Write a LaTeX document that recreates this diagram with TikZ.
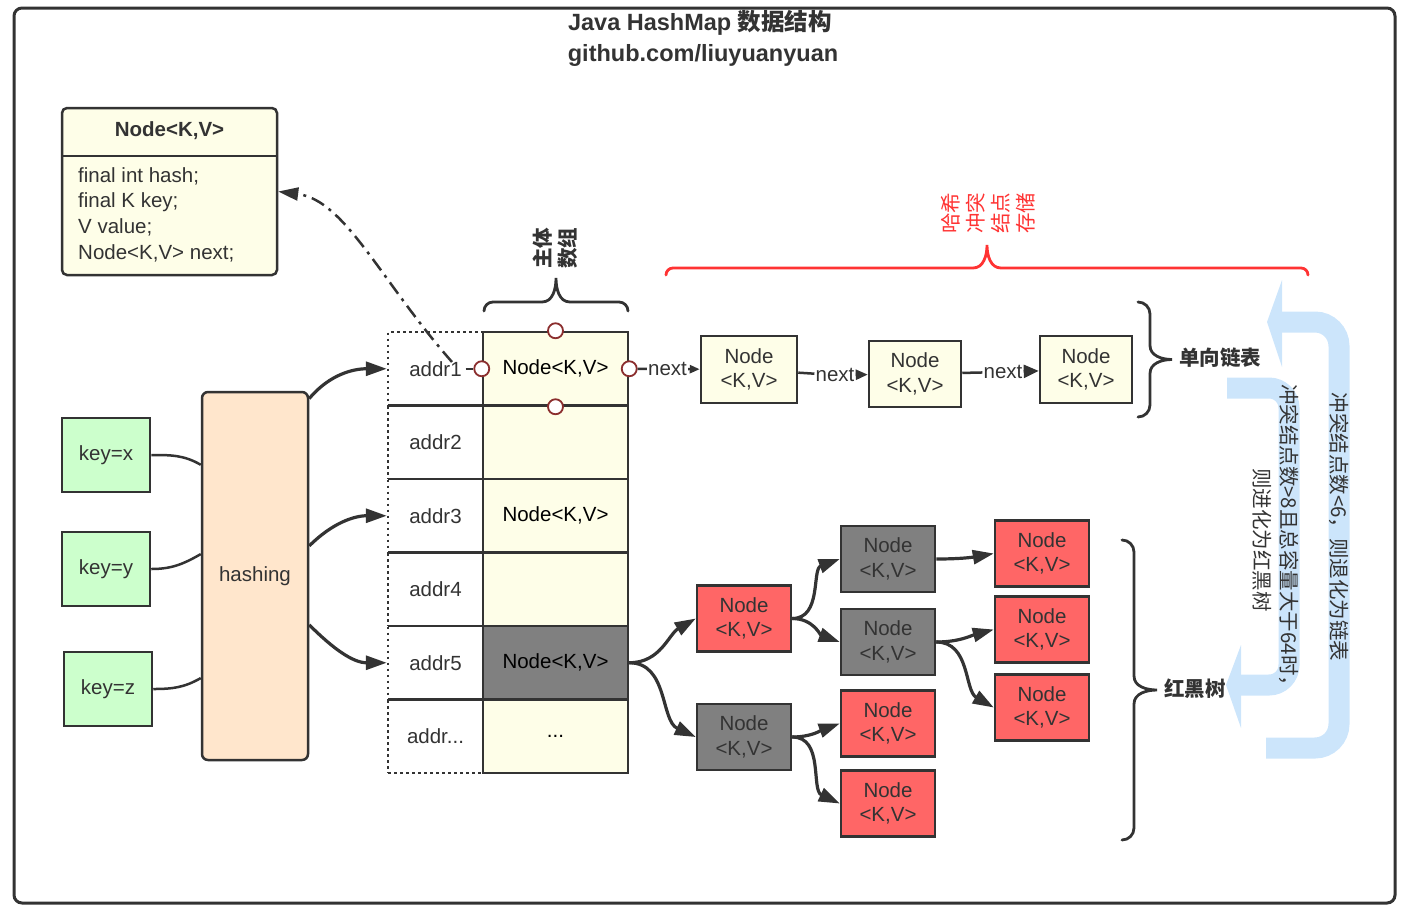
\documentclass[tikz,border=0pt]{standalone}
\usepackage{fontspec}
\setmainfont{Liberation Sans}
\newfontfamily\cjk{Noto Sans CJK SC}
\usepackage{xcolor}
\usepackage{tikz}
\usetikzlibrary{arrows.meta,calc}
\definecolor{ink}{HTML}{333333}
\definecolor{nodeyel}{HTML}{FEFEE8}
\definecolor{keygreen}{HTML}{CCFFCC}
\definecolor{hashpeach}{HTML}{FFE6CC}
\definecolor{rbred}{HTML}{FF6666}
\definecolor{rbgray}{HTML}{808080}
\definecolor{portred}{HTML}{8B2E2E}
\definecolor{clashred}{HTML}{FF3333}
\definecolor{flowblue}{HTML}{CCE5FB}
\newcommand\kv{Node<K,V>}
\newcommand\more{...}
\newcommand\txtsize{\fontsize{20.5}{24.5}\selectfont}
\newcommand\curly[6]{\draw[#1, shift={(#2)}, rotate=#3] (0,0) to[out=90,in=180] (#5,-#5) -- ({#4/2-14},-#5) to[out=0,in=-90] ({#4/2},-#6) to[out=-90,in=180] ({#4/2+14},-#5) -- ({#4-#5},-#5) to[out=0,in=90] (#4,0);}
\tikzset{
	cell/.style={draw=ink, line width=2.5pt, fill=#1, minimum width=145pt, minimum height=73.5pt, inner sep=0pt},
	addrbox/.style={draw=ink, line width=2.5pt, dash pattern=on 2.5pt off 3.5pt, minimum width=95pt, minimum height=73.5pt, inner sep=0pt},
	kvbox/.style={draw=ink, line width=2.5pt, fill=#1, minimum width=94pt, minimum height=66pt, align=center, inner sep=0pt},
	keybox/.style={draw=ink, line width=2.5pt, fill=keygreen, minimum width=88pt, minimum height=74pt},
	port/.style={circle, draw=portred, line width=1.8pt, fill=white, minimum size=15pt, inner sep=0pt},
	link/.style={draw=ink, line width=3.2pt, -{Triangle[length=21pt,width=14pt]}},
	wire/.style={draw=ink, line width=2.5pt},
	nextlink/.style={draw=ink, line width=2.5pt, -{Triangle[length=12pt,width=10pt]}},
	bracket/.style={line width=2.8pt, line cap=round},
	flow/.style={draw=flowblue, line width=21pt, rounded corners=24pt},
	vtext/.style={font=\cjk\fontsize{20.5}{27}\selectfont, align=center}
}
\begin{document}
\begin{tikzpicture}[x=1pt, y=-1pt, every node/.style={font=\txtsize, text=ink}]
	\useasboundingbox (0,0) rectangle (1418,922);
	\draw[ink, line width=3pt, rounded corners=8pt] (14,8) rectangle (1395,903);

	\node[font=\bfseries\fontsize{23.5}{28}\selectfont] (title) at (700,23) {Java HashMap {\cjk 数据结构}};
	\node[font=\bfseries\fontsize{23.5}{28}\selectfont] (repo) at (703,55) {github.com/liuyuanyuan};

	\draw[flow] (1266,748) -- (1339,748) -- (1339,322) -- (1282,322);
	\fill[flowblue] (1282,280) -- (1267,322) -- (1282,367) -- cycle;
	\draw[flow, rounded corners=20pt] (1227,388) -- (1289,388) -- (1289,685) -- (1241,685);
	\fill[flowblue] (1241,645) -- (1226,685) -- (1241,728) -- cycle;
	\node[vtext, rotate=-90] (shrink) at (1339,527) {冲突结点数<6，则退化为链表};
	\node[vtext, rotate=-90] (grow) at (1276,540) {冲突结点数>8且总容量大于64时，\\则进化为红黑树};

	\node[draw=ink, line width=2.5pt, fill=nodeyel, rounded corners=5pt, minimum width=215pt, minimum height=167pt] (cls) at (169.5,191.5) {};
	\draw[ink, line width=2.5pt] (62,156) -- (277,156);
	\node[font=\bfseries\txtsize] (clshead) at (169.5,131) {\kv};
	\node[anchor=west, align=left, inner sep=0pt, font=\fontsize{20.5}{25.7}\selectfont] (clsbody) at (78,214.5) {final int hash;\\final K key;\\V value;\\\kv{} next;};

	\node[keybox] (kx) at (106,455) {key=x};
	\node[keybox] (ky) at (106,569) {key=y};
	\node[keybox] (kz) at (108,689) {key=z};
	\node[draw=ink, line width=2.5pt, fill=hashpeach, rounded corners=6pt, minimum width=106pt, minimum height=368pt] (hash) at (255,576) {hashing};

	\foreach \i/\lbl/\txt/\clr in {1/addr1/\kv/nodeyel, 2/addr2//nodeyel, 3/addr3/\kv/nodeyel, 4/addr4//nodeyel, 5/addr5/\kv/rbgray, 6/addr\more/\more/nodeyel}{
		\node[addrbox] (a\i) at (435.5,{295.25+73.5*\i}) {\lbl};
		\node[cell=\clr, text=black] (c\i) at (555.5,{295.25+73.5*\i}) {\txt};
	}
	\foreach \a/\n in {north/pn, south/ps, west/pw, east/pe}
		\node[port] (\n) at (c1.\a) {};

	\curly{bracket, ink}{484,311}{0}{144}{9}{33}
	\node[vtext, rotate=90, font=\cjk\bfseries\fontsize{20.5}{25}\selectfont] (arraylbl) at (555,248) {主体\\数组};
	\curly{bracket, clashred}{666,275}{0}{642}{7}{30}
	\node[vtext, rotate=90, text=clashred, font=\cjk\fontsize{20.5}{25}\selectfont] (clashlbl) at (988,213) {哈希\\冲突\\结点\\存储};

	\node[kvbox=nodeyel, minimum width=96pt, minimum height=67pt] (ln1) at (749,369.5) {Node\\<K,V>};
	\node[kvbox=nodeyel, minimum width=92pt] (ln2) at (915,374) {Node\\<K,V>};
	\node[kvbox=nodeyel, minimum width=92pt, minimum height=67pt] (ln3) at (1086,369.5) {Node\\<K,V>};
	\node[inner sep=1pt] (nx1) at (667.5,369) {next};
	\node[inner sep=1pt] (nx2) at (835,375) {next};
	\node[inner sep=1pt] (nx3) at (1003,372) {next};
	\curly{bracket, ink}{1138,302}{-90}{115}{12}{34}
	\node[font=\cjk\bfseries\txtsize] (listlbl) at (1220,358) {单向链表};

	\node[kvbox=rbred] (rb1) at (744,618.5) {Node\\<K,V>};
	\node[kvbox=rbgray] (rb2) at (744,737) {Node\\<K,V>};
	\node[kvbox=rbgray] (rb3) at (888,559) {Node\\<K,V>};
	\node[kvbox=rbgray] (rb4) at (888,642) {Node\\<K,V>};
	\node[kvbox=rbred] (rb5) at (888,723.5) {Node\\<K,V>};
	\node[kvbox=rbred] (rb6) at (888,803.5) {Node\\<K,V>};
	\node[kvbox=rbred] (rb7) at (1042,553.5) {Node\\<K,V>};
	\node[kvbox=rbred] (rb8) at (1042,629.5) {Node\\<K,V>};
	\node[kvbox=rbred] (rb9) at (1042,707.5) {Node\\<K,V>};
	\curly{bracket, ink}{1122,540}{-90}{300}{12}{35}
	\node[font=\cjk\bfseries\txtsize] (treelbl) at (1195,689) {红黑树};

	\draw[wire] (kx.east) to[out=0, in=150] (hash.116);
	\draw[wire] (ky.east) to[out=0, in=210] (hash.158);
	\draw[wire] (kz.east) to[out=0, in=210] (hash.242);
	\draw[link] (hash.73) to[out=50, in=180] (a1.west);
	\draw[link] (hash.29) to[out=45, in=180] (a3.west);
	\draw[link] (hash.-42) to[out=-45, in=180] (a5.west);

	\draw[wire] ([xshift=30pt]a1.center) -- (pw);
	\draw[wire] (pe) -- (nx1);
	\draw[nextlink, -{Triangle[length=10pt,width=8pt]}] (nx1) -- (ln1);
	\draw[wire] (ln1) -- (nx2);
	\draw[nextlink] (nx2) -- (ln2);
	\draw[wire] (ln2) -- (nx3);
	\draw[nextlink, -{Triangle[length=15pt,width=13pt]}] (nx3) -- (ln3);

	\coordinate (tail) at (452,362);
	\draw[ink, line width=2.5pt, dash pattern=on 14pt off 6pt on 3pt off 6pt, -{Triangle[length=20pt,width=13pt]}] (tail) .. controls (380,280) and (345,200) .. (cls.east);

	\draw[link] (c5.east) to[out=0, in=210] (rb1.west);
	\draw[link] (c5.east) to[out=0, in=155] (rb2.west);
	\draw[link] (rb1.east) to[out=0, in=200] (rb3.west);
	\draw[link] (rb1.east) to[out=0, in=160] (rb4.west);
	\draw[link] (rb2.east) to[out=0, in=200] (rb5.west);
	\draw[link] (rb2.east) to[out=0, in=155] (rb6.west);
	\draw[link] (rb3.east) to[out=0, in=190] (rb7.west);
	\draw[link] (rb4.east) to[out=0, in=195] (rb8.west);
	\draw[link] (rb4.east) to[out=0, in=150] (rb9.west);
\end{tikzpicture}
\end{document}
